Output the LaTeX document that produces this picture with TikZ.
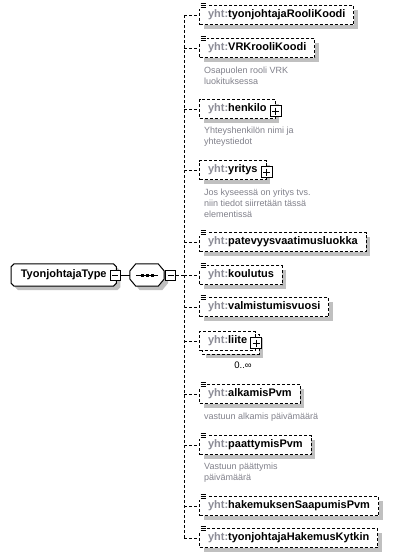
\documentclass[tikz,border=0pt]{standalone}
\usepackage{fontspec}
\setmainfont{Liberation Sans}
\usetikzlibrary{positioning,shadows,backgrounds}

\definecolor{prefixgray}{RGB}{140,140,150}
\definecolor{docgray}{RGB}{128,128,138}
\definecolor{shadowgray}{RGB}{192,192,192}

\newcommand{\yht}[1]{\textbf{{\color{prefixgray}yht:}#1}}

\tikzset{
  dropshade/.style={drop shadow={shadow xshift=4pt,shadow yshift=-4pt,fill=shadowgray,opacity=1}},
  link/.style={dash pattern=on 3pt off 2pt,line width=1pt},
  elembox/.style={draw,link,fill=white,anchor=west,inner xsep=8.5pt,inner ysep=0pt,
    minimum height=19pt,font=\fontsize{11}{13}\selectfont},
  elem/.style={elembox,dropshade},
  doc/.style={anchor=north west,inner sep=0pt,align=left,text=docgray,
    font=\fontsize{9}{11}\selectfont},
  markbox/.style={draw,solid,fill=white,line width=0.9pt,minimum size=10pt,inner sep=0pt},
  minusbox/.style={markbox,path picture={\draw[solid,line width=0.9pt]
    ([xshift=2pt]path picture bounding box.west) -- ([xshift=-2pt]path picture bounding box.east);}},
  plusbox/.style={markbox,minimum size=11pt,anchor=south,path picture={\draw[solid,line width=0.9pt]
    ([xshift=2pt]path picture bounding box.west) -- ([xshift=-2pt]path picture bounding box.east)
    ([yshift=-2pt]path picture bounding box.north) -- ([yshift=2pt]path picture bounding box.south);}},
  root/.style={anchor=west,inner sep=0pt,minimum width=105pt,minimum height=22pt,
    font=\bfseries\fontsize{11}{13}\selectfont},
  seq/.style={inner sep=0pt,minimum width=34pt,minimum height=22pt},
  outline/.style={draw,fill=white,line width=1pt,dropshade},
}

\begin{document}
\begin{tikzpicture}[x=1pt,y=-1pt]
\useasboundingbox (0,0) rectangle (400,558);

% type and sequence
\node[root] (type) at (11,275) {TyonjohtajaType\hspace{8pt}};
\node[seq] (seq) at (147,275) {};
\begin{scope}[on background layer]
\draw[outline] ([xshift=3pt]type.north west) -- ([xshift=-3pt]type.north east)
  -- ([yshift=-3pt]type.north east) -- ([yshift=3pt]type.south east)
  -- ([xshift=-3pt]type.south east) -- ([xshift=3pt]type.south west)
  -- ([yshift=3pt]type.south west) -- ([yshift=-3pt]type.north west) -- cycle;
\draw[outline] ([yshift=4pt]seq.west) -- ([xshift=6pt]seq.north west)
  -- ([xshift=-6pt]seq.north east) -- ([yshift=4pt]seq.east)
  -- ([yshift=-4pt]seq.east) -- ([xshift=-6pt]seq.south east)
  -- ([xshift=6pt]seq.south west) -- ([yshift=-4pt]seq.west) -- cycle;
\end{scope}
\node[minusbox] (typeminus) at ([xshift=-1pt]type.east) {};
\draw[line width=1pt] ([xshift=-11pt]seq.center) -- ([xshift=11pt]seq.center);
\foreach \dx in {-5,0,5}
  \fill ([shift={(\dx-1.5,-1.5)}]seq.center) rectangle ++(3,3);
\node[minusbox,right=1pt of seq] (seqminus) {};
\draw[line width=1pt] (typeminus) -- (seq);

% children
\node[elem] (rooli) at (199,15) {\yht{tyonjohtajaRooliKoodi}};
\node[elem] (vrk) at (199,48) {\yht{VRKrooliKoodi}};
\node[doc] (vrkdoc) at (204,67) {Osapuolen rooli VRK\\luokituksessa};
\node[elem] (henkilo) at (199,109) {\yht{henkilo}\hspace{7pt}};
\node[plusbox] (henkiloplus) at ([yshift=2pt]henkilo.south east) {};
\node[doc] (henkilodoc) at (204,127) {Yhteyshenkilön nimi ja\\yhteystiedot};
\node[elem] (yritys) at (199,170) {\yht{yritys}\hspace{7pt}};
\node[plusbox] (yritysplus) at ([yshift=2pt]yritys.south east) {};
\node[doc] (yritysdoc) at (204,189) {Jos kyseessä on yritys tvs.\\niin tiedot siirretään tässä\\elementissä};
\node[elem] (patevyys) at (199,242) {\yht{patevyysvaatimusluokka}};
\node[elem] (koulutus) at (199,275) {\yht{koulutus}};
\node[elem] (valmis) at (199,307) {\yht{valmistumisvuosi}};
\node[elembox] (liite) at (199,341) {\yht{liite}\hspace{7pt}};
\begin{scope}[on background layer]
\draw[link,fill=white,dropshade] ([shift={(3,3)}]liite.north west) rectangle ([shift={(3,3)}]liite.south east);
\end{scope}
\node[plusbox] (liiteplus) at ([yshift=2pt]liite.south east) {};
\node[font=\fontsize{9.5}{11}\selectfont] (liiteocc) at (243,365) {0..∞};
\node[elem] (alkamis) at (199,394) {\yht{alkamisPvm}};
\node[doc] (alkamisdoc) at (204,413) {vastuun alkamis päivämäärä};
\node[elem] (paattymis) at (199,445) {\yht{paattymisPvm}};
\node[doc] (paattymisdoc) at (204,463) {Vastuun päättymis\\päivämäärä};
\node[elem] (saapumis) at (199,506) {\yht{hakemuksenSaapumisPvm}};
\node[elem] (kytkin) at (199,538) {\yht{tyonjohtajaHakemusKytkin}};

% simple content marks
\foreach \n in {rooli,vrk,patevyys,koulutus,valmis,alkamis,paattymis,saapumis,kytkin} {
  \fill[white] ([shift={(-0.5,-3)}]\n.north west) rectangle ([shift={(8,4)}]\n.north west);
  \foreach \d in {-2,0,2}
    \draw[line width=0.8pt] ([shift={(1.5,\d)}]\n.north west) -- ++(5.5,0);
}

% connectors
\coordinate (fork) at (184,275);
\draw[link] (seqminus.east) -- (fork);
\draw[link] (fork |- rooli.west) -- (fork |- kytkin.west);
\foreach \n in {rooli,vrk,henkilo,yritys,patevyys,koulutus,valmis,liite,alkamis,paattymis,saapumis,kytkin}
  \draw[link] (fork |- \n.west) -- (\n.west);

\end{tikzpicture}
\end{document}
